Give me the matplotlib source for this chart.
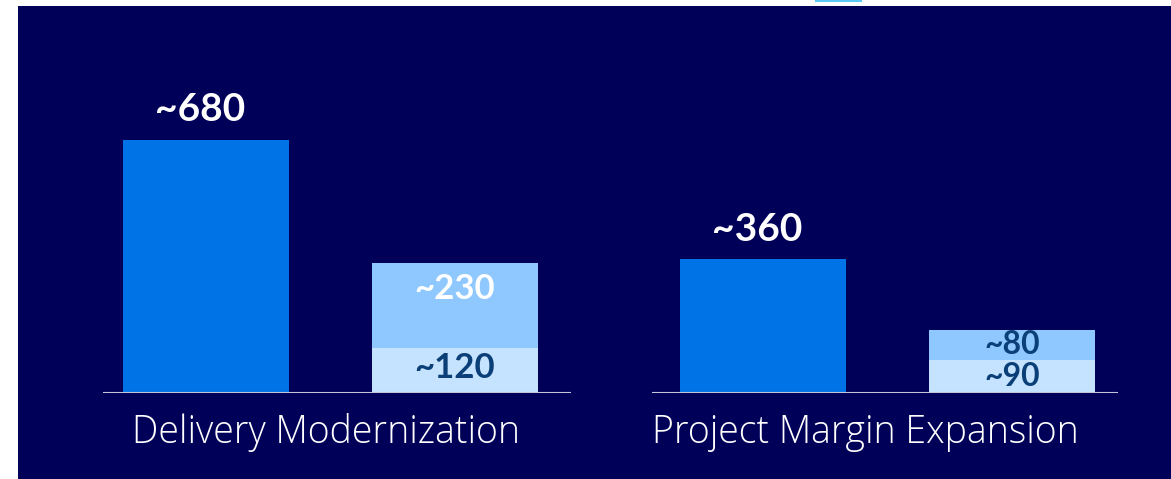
import matplotlib.pyplot as plt
from matplotlib.patches import Rectangle

# values per group: single total bar, then a two-part stacked bar
groups = ["Delivery Modernization", "Project Margin Expansion"]
totals = [680, 360]
stack_lower = [120, 90]
stack_upper = [230, 80]

NAVY = "#000058"
BLUE = "#0073E6"
LIGHT = "#8FC8FF"
PALE = "#C5E2FF"
DARK_TXT = "#0A3F78"

fig = plt.figure(figsize=(11.71, 4.79), dpi=100, facecolor="white")
W, H = 1171, 479
fig.add_artist(Rectangle((18 / W, 0), 1 - 18 / W, 1 - 6 / H, transform=fig.transFigure,
                         facecolor=NAVY, edgecolor="none", zorder=0))
fig.add_artist(Rectangle((815 / W, 1 - 2 / H), 47 / W, 2 / H, transform=fig.transFigure,
                         facecolor="#5BC8F5", edgecolor="none", zorder=0))

ymax = 1040
bar_w = 0.667
axes_px = [(103, 571), (652, 1118)]
label_px = [326, 865]
xlims = [(-0.414, 1.466), (-0.446, 1.425)]

for i, name in enumerate(groups):
    x0, x1 = axes_px[i]
    ax = fig.add_axes([x0 / W, 86 / H, (x1 - x0) / W, 387 / H])
    ax.set_facecolor("none")
    ax.set_xlim(*xlims[i])
    ax.set_ylim(0, ymax)
    ax.axis("off")

    ax.bar(0, totals[i], width=bar_w, color=BLUE, zorder=2)
    ax.bar(1, stack_lower[i], width=bar_w, color=PALE, zorder=2)
    ax.bar(1, stack_upper[i], width=bar_w, bottom=stack_lower[i], color=LIGHT, zorder=2)
    ax.axhline(0, color="#C4C4DC", lw=1.5, zorder=3)

    ax.annotate(f"~{totals[i]}", (0, totals[i]), xytext=(-4, 9), textcoords="offset points",
                ha="center", va="bottom", color="white", fontsize=28,
                fontweight="bold", family="Lato")

    if i == 0:
        ax.annotate(f"~{stack_upper[i]}", (1, stack_lower[i] + stack_upper[i]), xytext=(0, -19),
                    textcoords="offset points", ha="center", va="center", color="white",
                    fontsize=25, fontweight="bold", family="Lato")
        ax.text(1, stack_lower[i] / 2 + 6, f"~{stack_lower[i]}", ha="center", va="center",
                color=DARK_TXT, fontsize=25, fontweight="bold", family="Lato", zorder=4)
    else:
        ax.text(1, stack_lower[i] + stack_upper[i] / 2, f"~{stack_upper[i]}", ha="center",
                va="center", color=DARK_TXT, fontsize=23, fontweight="bold", family="Lato", zorder=4)
        ax.text(1, stack_lower[i] / 2, f"~{stack_lower[i]}", ha="center", va="center",
                color=DARK_TXT, fontsize=23, fontweight="bold", family="Lato", zorder=4)

    fig.text(label_px[i] / W, 1 - 433 / H, name, ha="center", va="center",
             color="white", fontsize=27, fontweight="light", family="Open Sans")

fig.savefig("out.png", dpi=100, facecolor="white")
